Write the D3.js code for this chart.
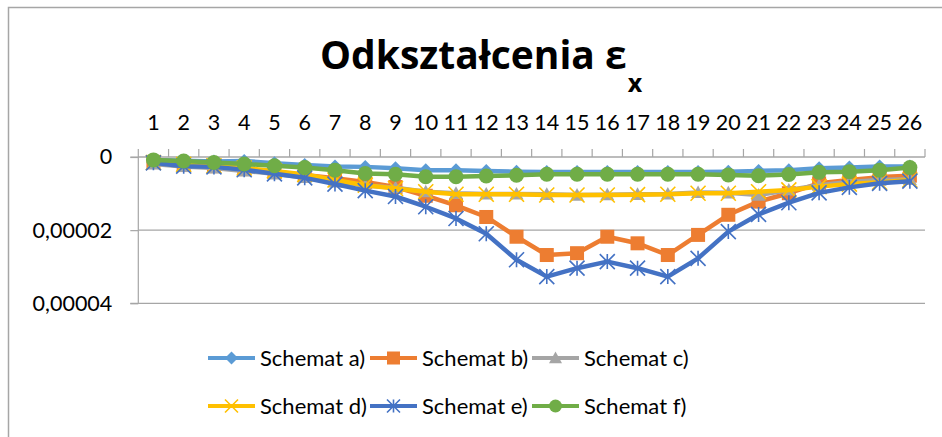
<!DOCTYPE html>
<html><head><meta charset="utf-8">
<script src="https://cdn.jsdelivr.net/npm/d3@7"></script>
<style>
html,body{margin:0;padding:0;background:#fff;}
svg{display:block;}
text{fill:#000;}
</style></head>
<body>
<svg id="chart" width="942" height="437"></svg>
<script>
const categories = ["1","2","3","4","5","6","7","8","9","10","11","12","13","14","15","16","17","18","19","20","21","22","23","24","25","26"];
const yTickValues = [0, 0.00002, 0.00004];
const yTickLabels = ["0", "0,00002", "0,00004"];
const seriesNames = ["Schemat a)", "Schemat b)", "Schemat c)", "Schemat d)", "Schemat e)", "Schemat f)"];
const schematA = [0.8e-6,1.0e-6,1.2e-6,1.1e-6,1.7e-6,2.2e-6,2.6e-6,2.7e-6,3.1e-6,3.6e-6,3.6e-6,3.8e-6,4.0e-6,4.1e-6,4.1e-6,4.1e-6,4.1e-6,4.1e-6,4.1e-6,4.0e-6,3.8e-6,3.6e-6,3.1e-6,2.9e-6,2.6e-6,2.6e-6];
const schematB = [1.4e-6,2.2e-6,2.5e-6,3.3e-6,4.1e-6,4.9e-6,5.8e-6,6.8e-6,8.2e-6,10.6e-6,13.2e-6,16.4e-6,21.8e-6,26.8e-6,26.3e-6,21.8e-6,23.6e-6,26.8e-6,21.3e-6,15.8e-6,12.2e-6,9.9e-6,7.2e-6,6.3e-6,5.5e-6,5.1e-6];
const schematC = [1.9e-6,2.6e-6,3.0e-6,3.8e-6,4.6e-6,5.6e-6,6.8e-6,7.8e-6,8.4e-6,9.5e-6,9.9e-6,10.1e-6,10.1e-6,10.2e-6,10.4e-6,10.3e-6,10.2e-6,10.1e-6,9.7e-6,9.8e-6,10.4e-6,9.0e-6,7.7e-6,6.8e-6,6.3e-6,6.1e-6];
const schematD = [1.5e-6,2.0e-6,2.4e-6,3.0e-6,3.8e-6,4.8e-6,6.3e-6,7.7e-6,8.6e-6,9.5e-6,10.2e-6,10.2e-6,10.2e-6,10.4e-6,10.4e-6,10.4e-6,10.3e-6,10.2e-6,9.9e-6,9.9e-6,9.5e-6,9.0e-6,8.1e-6,7.4e-6,6.9e-6,6.3e-6];
const schematE = [1.6e-6,2.5e-6,2.7e-6,3.5e-6,4.6e-6,5.7e-6,7.4e-6,9.2e-6,10.8e-6,13.6e-6,16.8e-6,21.0e-6,28.1e-6,32.7e-6,30.4e-6,28.6e-6,30.4e-6,32.7e-6,27.7e-6,20.4e-6,15.7e-6,12.5e-6,9.8e-6,8.3e-6,7.2e-6,6.6e-6];
const schematF = [0.8e-6,1.1e-6,1.5e-6,1.9e-6,2.4e-6,2.9e-6,3.6e-6,4.5e-6,4.7e-6,5.4e-6,5.4e-6,5.2e-6,5.0e-6,4.7e-6,4.7e-6,4.7e-6,4.7e-6,4.7e-6,4.7e-6,4.9e-6,5.1e-6,4.8e-6,4.2e-6,4.0e-6,3.6e-6,2.9e-6];
const seriesValues = [schematA, schematB, schematC, schematD, schematE, schematF];
const seriesColors = ["#5B9BD5", "#ED7D31", "#A5A5A5", "#FFC000", "#4472C4", "#70AD47"];
const seriesMarkers = ["diamond", "square", "triangle", "x", "star", "circle"];

const svg = d3.select("#chart");
const plotLeft = 138.3, plotRight = 925, y0 = 157, y1 = 303.3;

// frame
svg.append("rect").attr("x", 8.5).attr("y", 7.5).attr("width", 960).attr("height", 460)
  .attr("fill", "none").attr("stroke", "#a6a6a6").attr("stroke-width", 1.5);

const x = d3.scaleBand().domain(categories).range([plotLeft, plotRight]).padding(0);
const y = d3.scaleLinear().domain([0, 0.00004]).range([y0, y1]);
const cx = c => x(c) + x.bandwidth() / 2;

// gridlines
svg.append("g").selectAll("line").data(yTickValues).join("line")
  .attr("x1", plotLeft).attr("x2", plotRight)
  .attr("y1", d => y(d)).attr("y2", d => y(d))
  .attr("stroke", "#a6a6a6").attr("stroke-width", 1.2);

// y axis
const yAxis = svg.append("g").attr("transform", `translate(${plotLeft},0)`)
  .call(d3.axisLeft(y).tickValues(yTickValues).tickFormat((d, i) => yTickLabels[i]).tickSize(8).tickPadding(18));
yAxis.select(".domain").attr("stroke", "#a6a6a6").attr("stroke-width", 1.2).attr("d", `M-8,${y0}H0V${y1}H-8`);
yAxis.selectAll(".tick line").attr("stroke", "#a6a6a6").attr("stroke-width", 1.2);
yAxis.selectAll(".tick text").style("font-size", "21.5px").style("font-family", "Lato").attr("fill", "#000");

// x axis (top)
const xAxis = svg.append("g").attr("transform", `translate(0,${y0})`)
  .call(d3.axisTop(x).tickSize(0).tickPadding(27));
xAxis.select(".domain").remove();
xAxis.selectAll(".tick text").style("font-size", "21.5px").style("font-family", "Lato").attr("fill", "#000").attr("dy", 0);
const bounds = categories.map(c => x(c)).concat([plotRight]);
svg.append("g").selectAll("line").data(bounds).join("line")
  .attr("x1", d => d).attr("x2", d => d).attr("y1", y0 - 8).attr("y2", y0)
  .attr("stroke", "#a6a6a6").attr("stroke-width", 1.2);
svg.append("line").attr("x1", plotLeft).attr("x2", plotRight).attr("y1", y0).attr("y2", y0)
  .attr("stroke", "#a6a6a6").attr("stroke-width", 1.2);

// markers
function drawMarker(g, type, color, s) {
  const h = s / 2;
  if (type === "diamond") {
    g.append("path").attr("d", `M0,${-h}L${h},0L0,${h}L${-h},0Z`).attr("fill", color);
  } else if (type === "square") {
    g.append("rect").attr("x", -h).attr("y", -h).attr("width", s).attr("height", s).attr("fill", color);
  } else if (type === "triangle") {
    g.append("path").attr("d", `M0,${-h}L${h},${h * 0.8}L${-h},${h * 0.8}Z`).attr("fill", color);
  } else if (type === "x") {
    g.append("path").attr("d", `M${-h},${-h}L${h},${h}M${-h},${h}L${h},${-h}`).attr("stroke", color).attr("stroke-width", 1.6).attr("fill", "none");
  } else if (type === "star") {
    g.append("path").attr("d", `M${-h},${-h}L${h},${h}M${-h},${h}L${h},${-h}M0,${-h}L0,${h}`).attr("stroke", color).attr("stroke-width", 1.6).attr("fill", "none");
  } else if (type === "circle") {
    g.append("circle").attr("r", h).attr("fill", color);
  }
}
const markerSize = [14, 14, 14, 15, 15, 15];

const line = d3.line().x((d, i) => cx(categories[i])).y(d => y(d));
seriesValues.forEach((vals, si) => {
  const g = svg.append("g");
  g.append("path").datum(vals).attr("d", line).attr("fill", "none")
    .attr("stroke", seriesColors[si]).attr("stroke-width", 4.5).attr("stroke-linejoin", "round").attr("stroke-linecap", "round");
  vals.forEach((v, i) => {
    const mg = g.append("g").attr("transform", `translate(${cx(categories[i])},${y(v)})`);
    drawMarker(mg, seriesMarkers[si], seriesColors[si], markerSize[si]);
  });
});

// title
const title = svg.append("text").attr("x", 320).attr("y", 69)
  .style("font-size", "39px").style("font-weight", "bold").style("font-family", "'Open Sans'");
title.append("tspan").text("Odkształcenia ε");
title.append("tspan").style("font-size", "25px").attr("dy", 23).attr("dx", 1).text("x");

// legend
const legendX = [208, 370, 532];
const legendY = [358, 406];
seriesNames.forEach((name, i) => {
  const col = i % 3, row = Math.floor(i / 3);
  const g = svg.append("g").attr("transform", `translate(${legendX[col]},${legendY[row]})`);
  g.append("line").attr("x1", 0).attr("x2", 47).attr("y1", 0).attr("y2", 0)
    .attr("stroke", seriesColors[i]).attr("stroke-width", 4);
  const mg = g.append("g").attr("transform", "translate(23.5,0)");
  drawMarker(mg, seriesMarkers[i], seriesColors[i], 13);
  g.append("text").attr("x", 52).attr("y", 0).attr("dy", "0.35em")
    .style("font-size", "22px").style("font-family", "Lato").text(name);
});
</script>
</body></html>
